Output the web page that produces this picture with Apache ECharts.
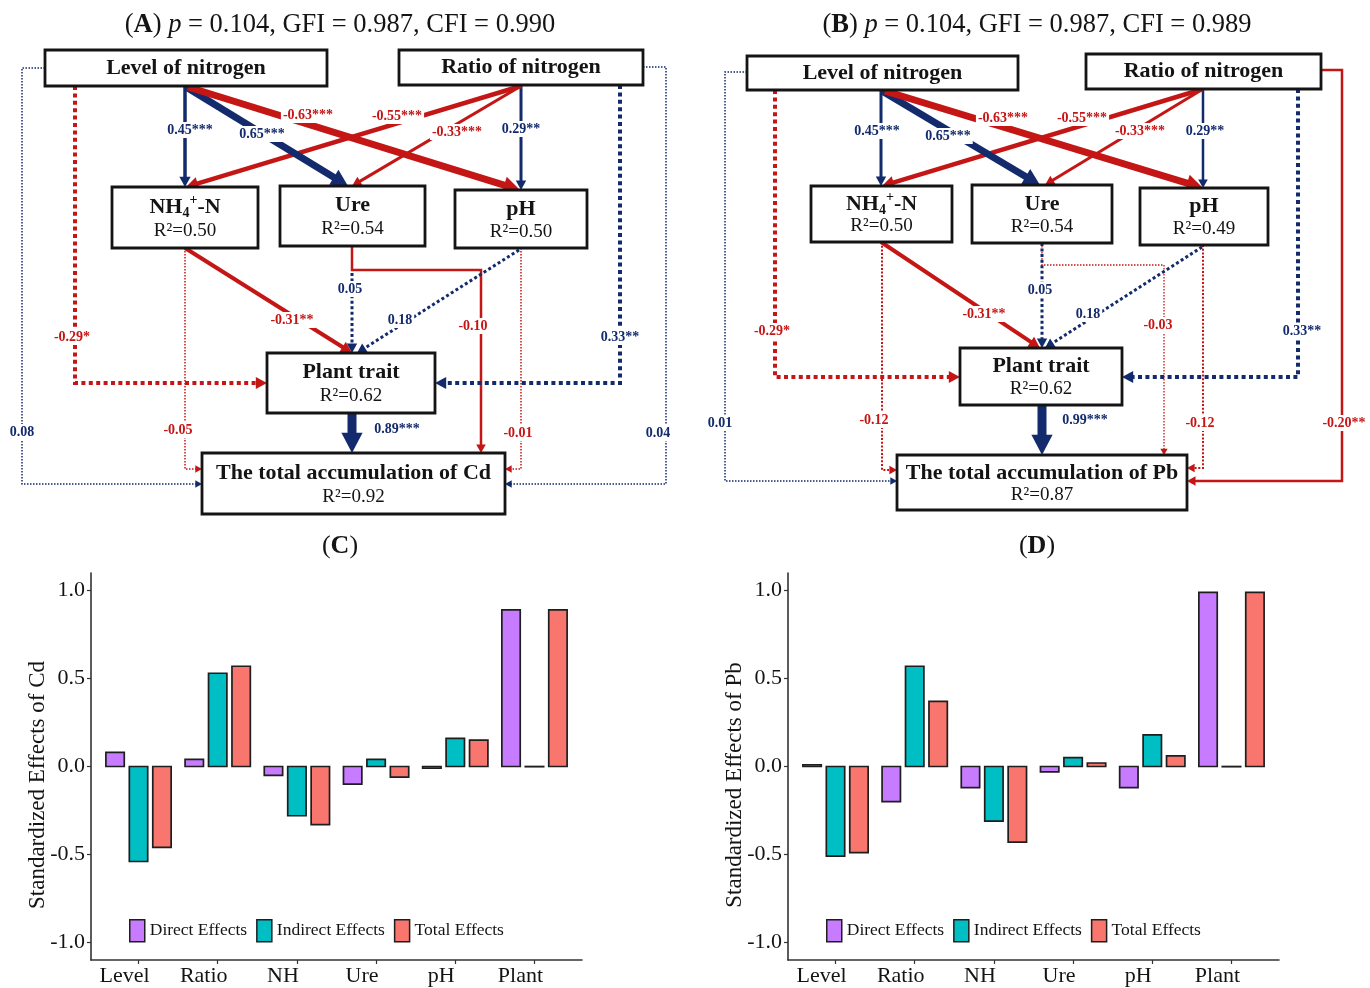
<!DOCTYPE html>
<html>
<head>
<meta charset="utf-8">
<title>Structural equation models and standardized effects of N on Cd and Pb</title>
<script src="https://cdn.jsdelivr.net/npm/echarts@6/dist/echarts.min.js"></script>
<style>
  html, body { margin: 0; padding: 0; background: #ffffff; }
  #chart { width: 1370px; height: 988px; }
</style>
</head>
<body>
<div id="chart"></div>
<script>
// ---------------- data ----------------
// SEM nodes
const nodeKeys = ['lev', 'rat', 'nh', 'ure', 'ph', 'plant', 'total'];
const nodeLabelsA = ['Level of nitrogen', 'Ratio of nitrogen', 'NH4+-N', 'Ure', 'pH', 'Plant trait', 'The total accumulation of Cd'];
const nodeLabelsB = ['Level of nitrogen', 'Ratio of nitrogen', 'NH4+-N', 'Ure', 'pH', 'Plant trait', 'The total accumulation of Pb'];
const r2A = [null, null, 0.50, 0.54, 0.50, 0.62, 0.92];
const r2B = [null, null, 0.50, 0.54, 0.49, 0.62, 0.87];

// SEM paths (same order in both models)
const pathFrom = ['lev', 'rat', 'nh', 'ph', 'ure', 'lev', 'rat', 'ure', 'ph', 'nh', 'lev', 'rat', 'rat', 'rat', 'lev', 'lev', 'plant'];
const pathTo = ['total', 'total', 'total', 'total', 'total', 'plant', 'plant', 'plant', 'plant', 'plant', 'nh', 'ph', 'ure', 'nh', 'ure', 'ph', 'total'];
const coefA = [0.08, 0.04, -0.05, -0.01, -0.10, -0.29, 0.33, 0.05, 0.18, -0.31, 0.45, 0.29, -0.33, -0.55, 0.65, -0.63, 0.89];
const sigA = ['', '', '', '', '', '*', '**', '', '', '**', '***', '**', '***', '***', '***', '***', '***'];
const coefB = [0.01, -0.20, -0.12, -0.12, -0.03, -0.29, 0.33, 0.05, 0.18, -0.31, 0.45, 0.29, -0.33, -0.55, 0.65, -0.63, 0.99];
const sigB = ['', '**', '', '', '', '*', '**', '', '', '**', '***', '**', '***', '***', '***', '***', '***'];

// Model fit
const fitA = { p: '0.104', gfi: '0.987', cfi: '0.990' };
const fitB = { p: '0.104', gfi: '0.987', cfi: '0.989' };

// Standardized effects
const effectCats = ['Level', 'Ratio', 'NH', 'Ure', 'pH', 'Plant'];
const effectNames = ['Direct Effects', 'Indirect Effects', 'Total Effects'];
const directCd = [0.08, 0.04, -0.05, -0.10, -0.01, 0.89];
const indirectCd = [-0.54, 0.53, -0.28, 0.04, 0.16, 0.00];
const totalCd = [-0.46, 0.57, -0.33, -0.06, 0.15, 0.89];
const directPb = [0.01, -0.20, -0.12, -0.03, -0.12, 0.99];
const indirectPb = [-0.51, 0.57, -0.31, 0.05, 0.18, 0.00];
const totalPb = [-0.49, 0.37, -0.43, 0.02, 0.06, 0.99];
const effectTicks = [-1.0, -0.5, 0.0, 0.5, 1.0];

// ---------------- diagram layout (diagram units) ----------------
const boxesA = {
  lev: [45, 50, 327, 86], rat: [399, 50, 643, 85],
  nh: [112, 187, 258, 248], ure: [280, 186, 425, 246], ph: [455, 190, 587, 248],
  plant: [267, 353, 435, 413], total: [202, 453, 505, 514]
};
const boxesB = {
  lev: [747, 56, 1018, 90], rat: [1086, 54, 1321, 89],
  nh: [811, 186, 952, 242], ure: [972, 185, 1112, 243], ph: [1140, 188, 1268, 245],
  plant: [960, 348, 1122, 405], total: [897, 455, 1187, 510]
};
// route points, label anchor, stroke width, dotted
const routesA = [
  { pts: [[45, 68], [22, 68], [22, 484], [202, 484]], lbl: [22, 432], w: 1.5, dot: true },
  { pts: [[643, 67], [666, 67], [666, 484], [505, 484]], lbl: [658, 433], w: 1.5, dot: true },
  { pts: [[185, 248], [185, 469], [202, 469]], lbl: [178, 430], w: 1.5, dot: true },
  { pts: [[521, 248], [521, 469], [505, 469]], lbl: [518, 433], w: 1.5, dot: true },
  { pts: [[352, 246], [352, 270], [481, 270], [481, 453]], lbl: [473, 326], w: 2.5, dot: false },
  { pts: [[75, 86], [75, 383], [267, 383]], lbl: [72, 337], w: 4, dot: true },
  { pts: [[620, 85], [620, 383], [435, 383]], lbl: [620, 337], w: 4, dot: true },
  { pts: [[352, 273], [352, 353]], lbl: [350, 289], w: 3, dot: true },
  { pts: [[519, 250], [357, 353]], lbl: [400, 320], w: 3, dot: true },
  { pts: [[185, 248], [352, 353]], lbl: [292, 320], w: 4, dot: false },
  { pts: [[185, 86], [185, 187]], lbl: [190, 130], w: 3.5, dot: false },
  { pts: [[521, 85], [521, 190]], lbl: [521, 129], w: 3, dot: false },
  { pts: [[521, 86], [352, 186]], lbl: [457, 132], w: 3, dot: false },
  { pts: [[521, 86], [186, 187]], lbl: [397, 116], w: 4.5, dot: false },
  { pts: [[186, 87], [348, 186]], lbl: [262, 134], w: 7, dot: false },
  { pts: [[188, 87], [520, 190]], lbl: [308, 115], w: 7, dot: false },
  { pts: [[352, 413], [352, 453]], lbl: [397, 429], w: 9, dot: false }
];
const routesB = [
  { pts: [[747, 72], [725, 72], [725, 481], [897, 481]], lbl: [720, 423], w: 1.5, dot: true },
  { pts: [[1321, 70], [1342, 70], [1342, 481], [1187, 481]], lbl: [1344, 423], w: 2.5, dot: false },
  { pts: [[882, 242], [882, 470], [897, 470]], lbl: [874, 420], w: 2, dot: true },
  { pts: [[1203, 245], [1203, 468], [1187, 468]], lbl: [1200, 423], w: 2, dot: true },
  { pts: [[1042, 243], [1042, 265], [1164, 265], [1164, 455]], lbl: [1158, 325], w: 1.3, dot: true },
  { pts: [[775, 90], [775, 377], [960, 377]], lbl: [772, 331], w: 4, dot: true },
  { pts: [[1298, 89], [1298, 377], [1122, 377]], lbl: [1302, 331], w: 4, dot: true },
  { pts: [[1042, 243], [1042, 348]], lbl: [1040, 290], w: 3, dot: true },
  { pts: [[1202, 247], [1045, 348]], lbl: [1088, 314], w: 3, dot: true },
  { pts: [[881, 242], [1040, 348]], lbl: [984, 314], w: 4, dot: false },
  { pts: [[881, 90], [881, 186]], lbl: [877, 131], w: 3, dot: false },
  { pts: [[1203, 89], [1203, 188]], lbl: [1205, 131], w: 2.5, dot: false },
  { pts: [[1203, 89], [1045, 185]], lbl: [1140, 131], w: 3, dot: false },
  { pts: [[1203, 89], [882, 186]], lbl: [1082, 118], w: 4.5, dot: false },
  { pts: [[882, 91], [1040, 185]], lbl: [948, 136], w: 7, dot: false },
  { pts: [[885, 91], [1203, 188]], lbl: [1003, 118], w: 7, dot: false },
  { pts: [[1042, 405], [1042, 455]], lbl: [1085, 420], w: 9, dot: false }
];

// ---------------- styling ----------------
const SERIF = '"Liberation Serif", "Times New Roman", serif';
const NAVY = '#132b6c';
const RED = '#c51616';
const INK = '#141414';
const effectColors = ['#C77CFF', '#00BFC4', '#F8766D'];
const fBold22 = 'bold 22px ' + SERIF;
const fBold14 = 'bold 14px ' + SERIF;
const fReg19 = '19px ' + SERIF;

const measureCtx = document.createElement('canvas').getContext('2d');
function textWidth(t, font) { measureCtx.font = font; return measureCtx.measureText(t).width; }

function textEl(text, x, y, font, fill, extra) {
  return {
    type: 'text',
    style: Object.assign({
      text: text, x: x, y: y, font: font, fill: fill,
      align: 'center', verticalAlign: 'middle',
      textAlign: 'center', textVerticalAlign: 'middle'
    }, extra || {})
  };
}

// horizontally chained text pieces (sub/superscripts)
function composeText(pieces, cx, cy, fill) {
  const total = pieces.reduce((s, p) => s + textWidth(p.t, p.font), 0);
  let x = cx - total / 2;
  return pieces.map(p => {
    const el = {
      type: 'text',
      style: {
        text: p.t, x: x, y: cy + (p.dy || 0), font: p.font, fill: fill,
        align: 'left', verticalAlign: 'middle', textAlign: 'left', textVerticalAlign: 'middle'
      }
    };
    x += textWidth(p.t, p.font);
    return el;
  });
}

function pathColor(c) { return c >= 0 ? NAVY : RED; }

function drawPath(api, route, coef) {
  const pts = route.pts.map(p => api.coord(p));
  const color = pathColor(coef);
  const w = route.w;
  const a = pts[pts.length - 2], b = pts[pts.length - 1];
  const dx = b[0] - a[0], dy = b[1] - a[1];
  const len = Math.hypot(dx, dy);
  const ux = dx / len, uy = dy / len;
  const hl = 4 + 1.8 * w, hw = 2.5 + 0.9 * w;
  const base = [b[0] - ux * hl, b[1] - uy * hl];
  const linePts = pts.slice(0, -1).concat([[b[0] - ux * hl * 0.75, b[1] - uy * hl * 0.75]]);
  return {
    type: 'group',
    children: [
      {
        type: 'polyline',
        shape: { points: linePts },
        style: {
          stroke: color, lineWidth: w, fill: null, lineCap: 'butt', lineJoin: 'miter',
          lineDash: route.dot ? [Math.max(w, 1.5), Math.max(w * 0.85, 1.5)] : null
        }
      },
      {
        type: 'polygon',
        shape: { points: [b, [base[0] - uy * hw, base[1] + ux * hw], [base[0] + uy * hw, base[1] - ux * hw]] },
        style: { fill: color }
      }
    ]
  };
}

function drawCoef(api, route, coef, sig) {
  const p = api.coord(route.lbl);
  return textEl(coef.toFixed(2) + sig, p[0], p[1], fBold14, pathColor(coef),
    { backgroundColor: '#ffffff', padding: [1, 2, 1, 2] });
}

function drawNode(api, box, name, r2) {
  const p1 = api.coord([box[0], box[1]]);
  const p2 = api.coord([box[2], box[3]]);
  const x = p1[0], y = p1[1], w = p2[0] - p1[0], h = p2[1] - p1[1];
  const cx = x + w / 2;
  const children = [{
    type: 'rect', shape: { x: x, y: y, width: w, height: h },
    style: { fill: '#ffffff', stroke: INK, lineWidth: 2.8 }
  }];
  const nameY = r2 == null ? y + h / 2 : y + h * 0.33;
  if (name === 'NH4+-N') {
    children.push.apply(children, composeText([
      { t: 'NH', font: fBold22 },
      { t: '4', font: fBold14, dy: 6 },
      { t: '+', font: fBold14, dy: -7 },
      { t: '-N', font: fBold22 }
    ], cx, nameY, INK));
  } else {
    children.push(textEl(name, cx, nameY, fBold22, INK));
  }
  if (r2 != null) {
    children.push(textEl('R\u00B2=' + r2.toFixed(2), cx, y + h * 0.72, fReg19, INK));
  }
  return { type: 'group', children: children };
}

function diagramSeries(tag, coefs, sigs, labels, r2s, boxes, routes) {
  const common = { type: 'custom', xAxisIndex: 0, yAxisIndex: 0, silent: true, clip: false, animation: false };
  return [
    Object.assign({}, common, {
      name: tag + ' paths', z: 2,
      data: coefs.map((c, i) => [i, c]),
      renderItem: (params, api) => drawPath(api, routes[params.dataIndex], coefs[params.dataIndex])
    }),
    Object.assign({}, common, {
      name: tag + ' nodes', z: 3,
      data: labels.map((l, i) => [i, 0]),
      renderItem: (params, api) => drawNode(api, boxes[nodeKeys[params.dataIndex]], labels[params.dataIndex], r2s[params.dataIndex])
    }),
    Object.assign({}, common, {
      name: tag + ' coefficients', z: 4,
      data: coefs.map((c, i) => [i, c]),
      renderItem: (params, api) => drawCoef(api, routes[params.dataIndex], coefs[params.dataIndex], sigs[params.dataIndex])
    })
  ];
}

// grouped bars on a numeric category position (1..6)
function barRender(slot, color) {
  return (params, api) => {
    const x = api.value(0), v = api.value(1);
    const unit = api.size([1, 0])[0];
    const bw = unit * 0.232, step = unit * 0.296;
    const p0 = api.coord([x, 0]);
    const p1 = api.coord([x, v]);
    const cx = p0[0] + (slot - 1) * step;
    const top = Math.min(p0[1], p1[1]);
    const h = Math.max(Math.abs(p1[1] - p0[1]), 0.2);
    return {
      type: 'rect',
      shape: { x: cx - bw / 2, y: top, width: bw, height: h },
      style: { fill: color, stroke: '#1e1e1e', lineWidth: 1.7 }
    };
  };
}

function effectSeries(axisIdx, arrays) {
  return arrays.map((arr, slot) => ({
    type: 'custom', name: effectNames[slot], xAxisIndex: axisIdx, yAxisIndex: axisIdx,
    silent: true, clip: false, animation: false, z: 3,
    itemStyle: { color: effectColors[slot] },
    data: arr.map((v, i) => [i + 1, v]),
    encode: { x: 0, y: 1 },
    renderItem: barRender(slot, effectColors[slot])
  }));
}

function effectXAxis(gridIndex) {
  const ticks = effectCats.map((c, i) => i + 1);
  return {
    type: 'value', gridIndex: gridIndex, min: 0.4, max: 6.6,
    splitLine: { show: false },
    axisLine: { show: true, onZero: false, lineStyle: { color: '#333333', width: 1.6 } },
    axisTick: { show: true, customValues: ticks, length: 4, lineStyle: { color: '#333333', width: 1.2 } },
    axisLabel: {
      customValues: ticks, formatter: v => effectCats[Math.round(v) - 1],
      fontFamily: SERIF, fontSize: 22, color: INK, margin: 5, padding: [0, 28, 0, 0]
    }
  };
}

function effectYAxis(gridIndex) {
  return {
    type: 'value', gridIndex: gridIndex, min: -1.1, max: 1.1,
    splitLine: { show: false },
    axisLine: { show: true, onZero: false, lineStyle: { color: '#333333', width: 1.6 } },
    axisTick: { show: true, customValues: effectTicks, length: 4, lineStyle: { color: '#333333', width: 1.2 } },
    axisLabel: {
      customValues: effectTicks, formatter: v => (Math.abs(v) < 1e-9 ? 0 : v).toFixed(1),
      fontFamily: SERIF, fontSize: 22, color: INK, margin: 6
    }
  };
}

function effectLegend(left) {
  return {
    left: left, top: 919, orient: 'horizontal', icon: 'rect', padding: 0,
    itemWidth: 15, itemHeight: 22, itemGap: 9, selectedMode: false,
    textStyle: { fontFamily: SERIF, fontSize: 17.5, color: INK },
    data: effectNames.map((n, i) => ({
      name: n, itemStyle: { color: effectColors[i], borderColor: '#1e1e1e', borderWidth: 1.5 }
    }))
  };
}

function fitTitle(letter, fit, x) {
  return {
    type: 'text', x: x, y: 25, silent: true,
    style: {
      text: '{n|(}{b|' + letter + '}{n|) }{i|p}{n| = ' + fit.p + ', GFI = ' + fit.gfi + ', CFI = ' + fit.cfi + '}',
      x: 0, y: 0, align: 'center', verticalAlign: 'middle', textAlign: 'center', textVerticalAlign: 'middle',
      fill: INK,
      rich: {
        n: { fontFamily: SERIF, fontSize: 26.5, fill: INK },
        b: { fontFamily: SERIF, fontSize: 26.5, fontWeight: 'bold', fill: INK },
        i: { fontFamily: SERIF, fontSize: 26.5, fontStyle: 'italic', fill: INK }
      }
    }
  };
}

function panelTitle(letter, x) {
  return {
    type: 'text', x: x, y: 546, silent: true,
    style: {
      text: '{n|(}{b|' + letter + '}{n|)}', x: 0, y: 0,
      align: 'center', verticalAlign: 'middle', textAlign: 'center', textVerticalAlign: 'middle',
      fill: INK,
      rich: {
        n: { fontFamily: SERIF, fontSize: 26, fill: INK },
        b: { fontFamily: SERIF, fontSize: 26, fontWeight: 'bold', fill: INK }
      }
    }
  };
}

function yTitle(text, x) {
  return {
    type: 'text', x: x, y: 785, rotation: Math.PI / 2, silent: true,
    style: {
      text: text, x: 0, y: 0, fontFamily: SERIF, fontSize: 23, fill: INK,
      align: 'center', verticalAlign: 'middle', textAlign: 'center', textVerticalAlign: 'middle'
    }
  };
}

const chart = echarts.init(document.getElementById('chart'), null, { renderer: 'canvas' });

const option = {
  backgroundColor: '#ffffff',
  animation: false,
  grid: [
    { left: 0, top: 0, width: 1370, height: 530, outerBoundsMode: 'none' },
    { left: 91, top: 573, width: 491, height: 387, outerBoundsMode: 'none' },
    { left: 788, top: 573, width: 491, height: 387, outerBoundsMode: 'none' }
  ],
  xAxis: [
    { type: 'value', gridIndex: 0, min: 0, max: 1370, show: false },
    effectXAxis(1),
    effectXAxis(2)
  ],
  yAxis: [
    { type: 'value', gridIndex: 0, min: 0, max: 530, inverse: true, show: false },
    effectYAxis(1),
    effectYAxis(2)
  ],
  legend: [effectLegend(129), effectLegend(826)],
  graphic: [
    fitTitle('A', fitA, 340),
    fitTitle('B', fitB, 1037),
    panelTitle('C', 340),
    panelTitle('D', 1037),
    yTitle('Standardized Effects of Cd', 38),
    yTitle('Standardized Effects of Pb', 735)
  ],
  series: [].concat(
    diagramSeries('A', coefA, sigA, nodeLabelsA, r2A, boxesA, routesA),
    diagramSeries('B', coefB, sigB, nodeLabelsB, r2B, boxesB, routesB),
    effectSeries(1, [directCd, indirectCd, totalCd]),
    effectSeries(2, [directPb, indirectPb, totalPb])
  )
};

chart.setOption(option);
</script>
</body>
</html>
